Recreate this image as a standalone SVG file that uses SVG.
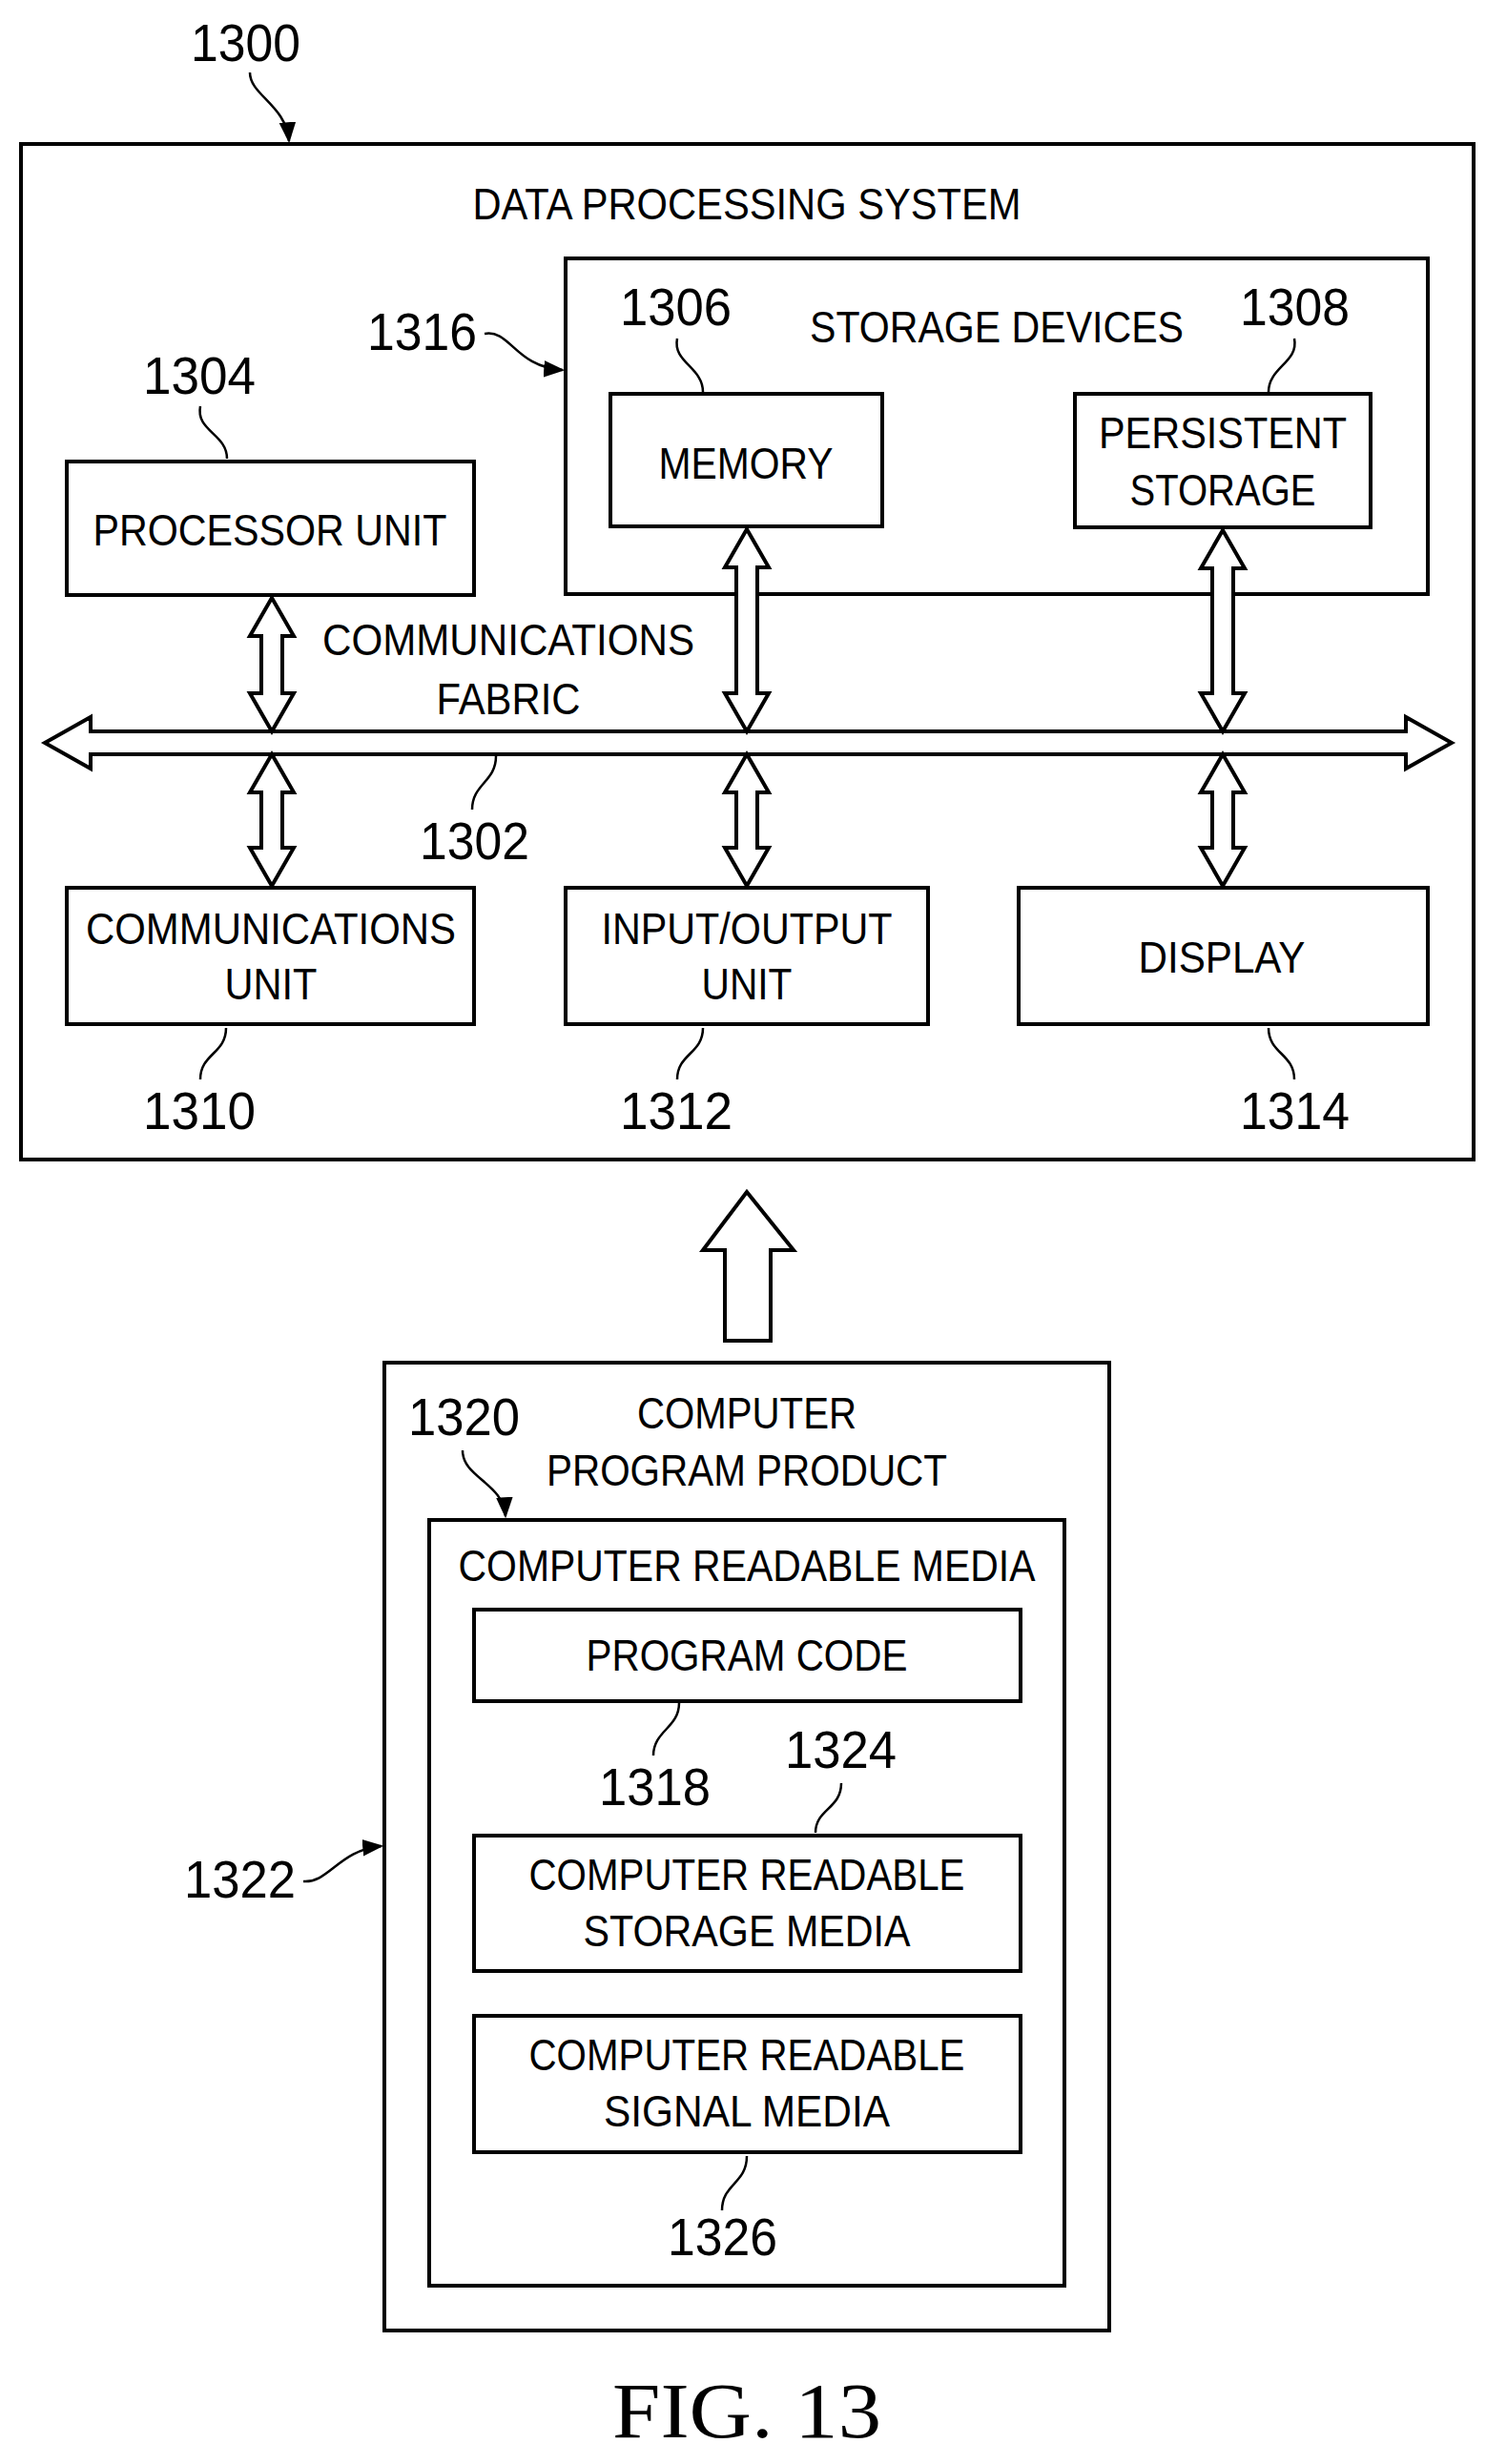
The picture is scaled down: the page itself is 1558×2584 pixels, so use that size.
<svg xmlns="http://www.w3.org/2000/svg" width="1558" height="2584" viewBox="0 0 1558 2584">
<style>
.box{fill:#fff;stroke:#000;stroke-width:4}
.t{font-family:"Liberation Sans",Arial,sans-serif;font-size:46px;text-anchor:middle;fill:#000}
.n{font-family:"Liberation Sans",Arial,sans-serif;font-size:56px;text-anchor:start;fill:#000}
.ld{fill:none;stroke:#000;stroke-width:2.5}
.ar{fill:#fff;stroke:#000;stroke-width:4;stroke-linejoin:miter}
</style>
<defs>
<marker id="ah" viewBox="0 0 10 10" refX="9" refY="5" markerWidth="8" markerHeight="8" markerUnits="userSpaceOnUse" orient="auto"><path d="M0,0 L10,5 L0,10 Z" fill="#000"/></marker>
<marker id="ahb" viewBox="0 0 10 10" refX="9" refY="5" markerWidth="22" markerHeight="22" markerUnits="userSpaceOnUse" orient="auto"><path d="M0,1 L10,5 L0,9 Z" fill="#000"/></marker>
</defs>
<rect width="1558" height="2584" fill="#fff"/>

<g id="dps">
<rect class="box" x="22" y="151" width="1523" height="1065"/>
<text class="t" x="783" y="230" textLength="575" lengthAdjust="spacingAndGlyphs">DATA PROCESSING SYSTEM</text>
<text class="n" x="200" y="64" textLength="115" lengthAdjust="spacingAndGlyphs">1300</text>
</g>
<g id="storage">
<rect class="box" x="593" y="271" width="904" height="352"/>
<text class="t" x="1045" y="359" textLength="392" lengthAdjust="spacingAndGlyphs">STORAGE DEVICES</text>
<text class="n" x="385" y="367" textLength="115" lengthAdjust="spacingAndGlyphs">1316</text>
</g>
<g id="memory">
<rect class="box" x="640" y="413" width="285" height="139"/>
<text class="t" x="782" y="502" textLength="183" lengthAdjust="spacingAndGlyphs">MEMORY</text>
<text class="n" x="650" y="341" textLength="117" lengthAdjust="spacingAndGlyphs">1306</text>
</g>
<g id="persistent">
<rect class="box" x="1127" y="413" width="310" height="140"/>
<text class="t" x="1282" y="470" textLength="260" lengthAdjust="spacingAndGlyphs">PERSISTENT</text>
<text class="t" x="1282" y="530" textLength="195" lengthAdjust="spacingAndGlyphs">STORAGE</text>
<text class="n" x="1300" y="341" textLength="115" lengthAdjust="spacingAndGlyphs">1308</text>
</g>
<g id="processor">
<rect class="box" x="70" y="484" width="427" height="140"/>
<text class="t" x="283" y="572" textLength="371" lengthAdjust="spacingAndGlyphs">PROCESSOR UNIT</text>
<text class="n" x="150" y="413" textLength="118" lengthAdjust="spacingAndGlyphs">1304</text>
</g>
<g id="fabric">
<text class="t" x="533" y="687" textLength="390" lengthAdjust="spacingAndGlyphs">COMMUNICATIONS</text>
<text class="t" x="533" y="749" textLength="151" lengthAdjust="spacingAndGlyphs">FABRIC</text>
<text class="n" x="440" y="901" textLength="115" lengthAdjust="spacingAndGlyphs">1302</text>
</g>
<g id="comm">
<rect class="box" x="70" y="931" width="427" height="143"/>
<text class="t" x="284" y="990" textLength="388" lengthAdjust="spacingAndGlyphs">COMMUNICATIONS</text>
<text class="t" x="284" y="1048" textLength="97" lengthAdjust="spacingAndGlyphs">UNIT</text>
<text class="n" x="150" y="1184" textLength="118" lengthAdjust="spacingAndGlyphs">1310</text>
</g>
<g id="io">
<rect class="box" x="593" y="931" width="380" height="143"/>
<text class="t" x="783" y="990" textLength="305" lengthAdjust="spacingAndGlyphs">INPUT/OUTPUT</text>
<text class="t" x="783" y="1048" textLength="95" lengthAdjust="spacingAndGlyphs">UNIT</text>
<text class="n" x="650" y="1184" textLength="118" lengthAdjust="spacingAndGlyphs">1312</text>
</g>
<g id="display">
<rect class="box" x="1068" y="931" width="429" height="143"/>
<text class="t" x="1281" y="1020" textLength="175" lengthAdjust="spacingAndGlyphs">DISPLAY</text>
<text class="n" x="1300" y="1184" textLength="115" lengthAdjust="spacingAndGlyphs">1314</text>
</g>

<g id="cpp">
<rect class="box" x="403" y="1429" width="760" height="1015"/>
<text class="t" x="783" y="1498" textLength="230" lengthAdjust="spacingAndGlyphs">COMPUTER</text>
<text class="t" x="783" y="1558" textLength="420" lengthAdjust="spacingAndGlyphs">PROGRAM PRODUCT</text>
<text class="n" x="428" y="1505" textLength="117" lengthAdjust="spacingAndGlyphs">1320</text>
</g>
<g id="crm">
<rect class="box" x="450" y="1594" width="666" height="803"/>
<text class="t" x="783" y="1658" textLength="605" lengthAdjust="spacingAndGlyphs">COMPUTER READABLE MEDIA</text>
<text class="n" x="193" y="1990" textLength="117" lengthAdjust="spacingAndGlyphs">1322</text>
</g>
<g id="code">
<rect class="box" x="497" y="1688" width="573" height="96"/>
<text class="t" x="783" y="1752" textLength="337" lengthAdjust="spacingAndGlyphs">PROGRAM CODE</text>
<text class="n" x="628" y="1893" textLength="117" lengthAdjust="spacingAndGlyphs">1318</text>
</g>
<g id="crsm">
<rect class="box" x="497" y="1925" width="573" height="142"/>
<text class="t" x="783" y="1982" textLength="457" lengthAdjust="spacingAndGlyphs">COMPUTER READABLE</text>
<text class="t" x="783" y="2041" textLength="343" lengthAdjust="spacingAndGlyphs">STORAGE MEDIA</text>
<text class="n" x="823" y="1854" textLength="117" lengthAdjust="spacingAndGlyphs">1324</text>
</g>
<g id="crsig">
<rect class="box" x="497" y="2114" width="573" height="143"/>
<text class="t" x="783" y="2171" textLength="457" lengthAdjust="spacingAndGlyphs">COMPUTER READABLE</text>
<text class="t" x="783" y="2230" textLength="300" lengthAdjust="spacingAndGlyphs">SIGNAL MEDIA</text>
<text class="n" x="700" y="2365" textLength="115" lengthAdjust="spacingAndGlyphs">1326</text>
</g>

<g id="connectors">
<path class="ar" d="M47,779 L95,752 L95,767 L1474,767 L1474,752 L1522,779 L1474,806 L1474,791 L95,791 L95,806 Z"/>
<path class="ar" d="M285,627 L308,667 L296,667 L296,727 L308,727 L285,767 L262,727 L274,727 L274,667 L262,667 Z"/>
<path class="ar" d="M783,555 L806,595 L794,595 L794,727 L806,727 L783,767 L760,727 L772,727 L772,595 L760,595 Z"/>
<path class="ar" d="M1282,556 L1305,596 L1293,596 L1293,727 L1305,727 L1282,767 L1259,727 L1271,727 L1271,596 L1259,596 Z"/>
<path class="ar" d="M285,791 L308,831 L296,831 L296,889 L308,889 L285,929 L262,889 L274,889 L274,831 L262,831 Z"/>
<path class="ar" d="M783,791 L806,831 L794,831 L794,889 L806,889 L783,929 L760,889 L772,889 L772,831 L760,831 Z"/>
<path class="ar" d="M1282,791 L1305,831 L1293,831 L1293,889 L1305,889 L1282,929 L1259,889 L1271,889 L1271,831 L1259,831 Z"/>
<path class="ar" d="M783,1250 L832,1311 L808,1311 L808,1406 L760,1406 L760,1311 L737,1311 Z"/>
<path class="ld" d="M262,76 C262,100 300,110 303,148" marker-end="url(#ahb)"/>
<path class="ld" d="M508,350 C535,345 540,385 590,388" marker-end="url(#ahb)"/>
<path class="ld" d="M710,355 C705,380 737,385 737,411"/>
<path class="ld" d="M1357,355 C1362,380 1330,385 1330,411"/>
<path class="ld" d="M210,426 C205,452 238,455 238,481"/>
<path class="ld" d="M520,793 C520,820 495,822 495,849"/>
<path class="ld" d="M237,1078 C237,1105 210,1105 210,1132"/>
<path class="ld" d="M737,1078 C737,1105 710,1105 710,1132"/>
<path class="ld" d="M1330,1078 C1330,1105 1357,1105 1357,1132"/>
<path class="ld" d="M485,1521 C485,1550 528,1555 530,1590" marker-end="url(#ahb)"/>
<path class="ld" d="M318,1973 C345,1975 355,1940 400,1936" marker-end="url(#ahb)"/>
<path class="ld" d="M712,1786 C712,1812 685,1815 685,1841"/>
<path class="ld" d="M882,1870 C882,1897 855,1897 855,1922"/>
<path class="ld" d="M783,2261 C783,2290 757,2290 757,2318"/>
</g>
<text x="783" y="2556" font-family="'Liberation Serif','Times New Roman',serif" font-size="82" text-anchor="middle" textLength="282" lengthAdjust="spacingAndGlyphs">FIG. 13</text>
</svg>
